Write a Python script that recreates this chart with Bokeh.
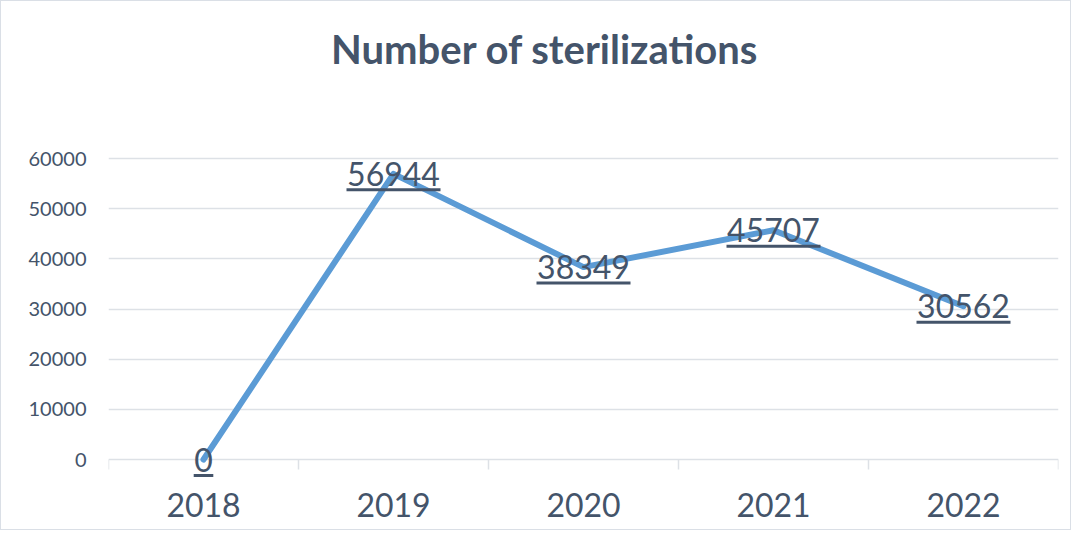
from bokeh.plotting import figure
from bokeh.models import Range1d, FixedTicker, NumeralTickFormatter, ColumnDataSource
from bokeh.core.properties import value
from bokeh.embed import file_html
from bokeh.resources import INLINE

# ---- data ----
years = ["2018", "2019", "2020", "2021", "2022"]
sterilizations = [0, 56944, 38349, 45707, 30562]
y_ticks = [0, 10000, 20000, 30000, 40000, 50000, 60000]
title_text = "Number of sterilizations"

# ---- style / layout ----
TEXT = "#44546A"
LINE = "#5B9BD5"
GRID = "#DDE1E6"
FONT = "Lato"

W, H = 1071, 530
B_LEFT, B_RIGHT = 107, 14
PLOT_TOP, PLOT_BOTTOM = 157, 458      # pixel rows of the top tick and of zero
TITLE_Y = 47

y_max = y_ticks[-1]
per_px = y_max / (PLOT_BOTTOM - PLOT_TOP)
y_end = y_max + PLOT_TOP * per_px
y_start = -(H - PLOT_BOTTOM) * per_px
n = len(years)
cat_px = (W - B_LEFT - B_RIGHT) / n

xs = [i + 0.5 for i in range(n)]
bounds = list(range(n + 1))

p = figure(width=W, height=H, output_backend="svg", toolbar_location=None,
           x_range=Range1d(0, n), y_range=Range1d(y_start, y_end),
           min_border_left=B_LEFT, min_border_right=B_RIGHT,
           min_border_top=0, min_border_bottom=0)
p.outline_line_color = None
p.background_fill_color = "white"
p.border_fill_color = "white"
p.styles = {"border": "1px solid #DADFE6", "box-sizing": "border-box"}

# grid (zero line acts as category axis line)
p.xgrid.grid_line_color = None
p.ygrid.grid_line_color = GRID
p.ygrid.grid_line_width = 1.3
p.ygrid.ticker = FixedTicker(ticks=y_ticks)

# y axis
p.yaxis.ticker = FixedTicker(ticks=y_ticks)
p.yaxis.formatter = NumeralTickFormatter(format="0")
p.yaxis.axis_line_color = None
p.yaxis.major_tick_line_color = None
p.yaxis.minor_tick_line_color = None
p.yaxis.major_label_text_font = FONT
p.yaxis.major_label_text_font_size = "20px"
p.yaxis.major_label_text_color = TEXT
p.yaxis.major_label_standoff = 16

# x axis drawn by hand (category labels + boundary ticks)
p.xaxis.visible = False
p.segment(x0=bounds, y0=[0] * len(bounds), x1=bounds, y1=[-10 * per_px] * len(bounds),
          line_color=GRID, line_width=1.5)
p.text(x=xs, y=[0] * n, text=years, y_offset=45, text_align="center", text_baseline="middle",
       text_font=value(FONT), text_font_size="32px", text_color=TEXT)

# line
p.line(xs, sterilizations, line_color=LINE, line_width=6, line_join="round", line_cap="round")

# data labels (underlined)
labels = [str(v) for v in sterilizations]
src = ColumnDataSource(dict(x=xs, y=sterilizations, t=labels,
                            uy=[v - 16 * per_px for v in sterilizations],
                            uw=[len(s) * 18.6 + 1 for s in labels]))
p.text(x="x", y="y", text="t", source=src, text_align="center", text_baseline="middle",
       text_font=value(FONT), text_font_size="32px", text_color=TEXT)
p.rect(x="x", y="uy", width="uw", height=3, width_units="screen", height_units="screen",
       source=src, fill_color=TEXT, line_color=None)

# title, centred on the whole chart
p.text(x=[n / 2], y=[y_max + (PLOT_TOP - TITLE_Y) * per_px], text=[title_text],
       x_offset=(W / 2 - B_LEFT) - n / 2 * cat_px + 8,
       text_align="center", text_baseline="middle",
       text_font=value(FONT), text_font_size="40px", text_font_style="bold", text_color=TEXT)

open("out.html", "w").write(file_html(p, INLINE))
